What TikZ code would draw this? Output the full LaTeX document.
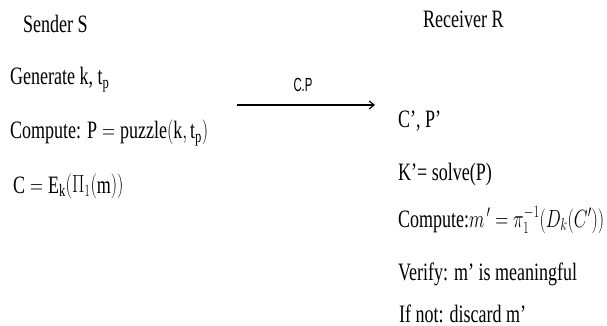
\documentclass[tikz,border=0pt]{standalone}
\usepackage{fontspec}
\setmainfont{Liberation Serif}
\newfontfamily\labfont{Liberation Sans}
\usetikzlibrary{arrows.meta}
\newcommand\sq[1]{\scalebox{0.72}[1]{#1}}
\newcommand\sqlab[1]{\scalebox{0.6}[1]{#1}}
\tikzset{
  txt/.style={anchor=base west, inner sep=0pt, font=\fontsize{25}{28}\selectfont},
  flow/.style={-{Straight Barb[length=5pt,width=8pt]}, line width=1.1pt},
  lab/.style={anchor=base, inner sep=0pt, font=\labfont\fontsize{19}{22}\selectfont}
}
\begin{document}
\begin{tikzpicture}[x=1pt,y=-1pt]
\useasboundingbox (0,0) rectangle (607,326);
% sender
\node[txt] (s0) at (23,33) {\sq{Sender S}};
\node[txt] (s1) at (10,85) {\sq{Generate k, $\mathrm{t_p}$}};
\node[txt] (s2) at (10,139) {\sq{Compute: $\mathrm{P} = \mathrm{puzzle}\big(\mathrm{k, t_p}\big)$}};
\node[txt] (s3) at (13,193) {\sq{$\mathrm{C} = \mathrm{E_k}\Big(\Pi_1\big(\mathrm{m}\big)\Big)$}};
% receiver
\node[txt] (r0) at (423,28) {\sq{Receiver R}};
\node[txt] (r1) at (398,128) {\sq{C’, P’}};
\node[txt] (r2) at (398,180) {\sq{K’= solve(P)}};
\node[txt] (r3) at (398,227) {\sq{Compute:$m^{\,\prime} = \pi_1^{-1}\big(D_k(C')\big)$}};
\node[txt] (r4) at (398,280) {\sq{Verify: m’ is meaningful}};
\node[txt] (r5) at (399,322) {\sq{If not: discard m’}};
% message
\coordinate (a1) at (237,105);
\coordinate (a2) at (375,105);
\draw[flow] (a1) -- (a2);
\node[lab] (cp) at (303,92) {\sqlab{C.P}};
\end{tikzpicture}
\end{document}
